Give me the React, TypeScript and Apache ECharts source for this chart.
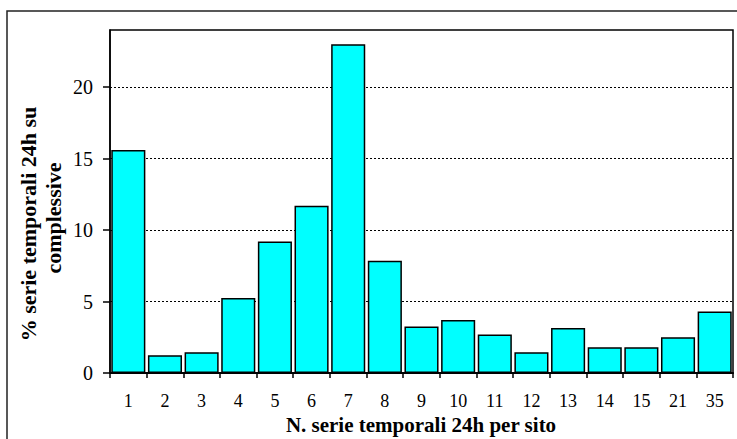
import React, { useEffect, useRef } from "react";
import * as echarts from "echarts";

// Number of 24h time series per site
const categories = ["1", "2", "3", "4", "5", "6", "7", "8", "9", "10", "11", "12", "13", "14", "15", "21", "35"];
// Share (%) of all 24h time series
const shares = [15.6, 1.25, 1.45, 5.25, 9.2, 11.7, 23.0, 7.85, 3.25, 3.7, 2.7, 1.45, 3.15, 1.8, 1.8, 2.5, 4.3];
const yTicks = [0, 5, 10, 15, 20];

const FONT = '"Liberation Serif", "Times New Roman", serif';

export default function App() {
  const ref = useRef<HTMLDivElement>(null);

  useEffect(() => {
    document.body.style.margin = "0";
    if (!ref.current) return;
    const chart = echarts.init(ref.current, undefined, { renderer: "svg" });
    chart.setOption({
      animation: false,
      backgroundColor: "#ffffff",
      grid: {
        left: 110,
        top: 30,
        right: 4,
        bottom: 66,
        show: true,
        borderColor: "#000",
        borderWidth: 1.5,
        backgroundColor: "transparent",
      },
      xAxis: {
        type: "category",
        data: categories,
        axisLine: { lineStyle: { color: "#000", width: 2 } },
        axisTick: { show: true, length: 5, lineStyle: { color: "#000", width: 1.5 } },
        axisLabel: { color: "#000", fontFamily: FONT, fontSize: 18, margin: 19 },
      },
      yAxis: {
        type: "value",
        min: 0,
        max: 24,
        interval: 5,
        axisLine: { show: true, lineStyle: { color: "#000", width: 1.5 } },
        axisTick: { show: true, length: 7, customValues: yTicks, lineStyle: { color: "#000", width: 1.5 } },
        axisLabel: {
          color: "#000",
          fontFamily: FONT,
          fontSize: 20,
          margin: 17,
          customValues: yTicks,
        },
        splitLine: { show: true, lineStyle: { color: "#000", type: [2, 2], width: 1 } },
      },
      series: [
        {
          type: "bar",
          data: shares,
          barCategoryGap: "7%",
          itemStyle: { color: "#00ffff", borderColor: "#000", borderWidth: 1.5 },
        },
      ],
      graphic: [
        {
          type: "rect",
          shape: { x: 7, y: 11, width: 760, height: 460 },
          style: { fill: "none", stroke: "#222", lineWidth: 1.5 },
          silent: true,
        },
        {
          type: "text",
          x: 421,
          y: 425,
          style: {
            text: "N. serie temporali 24h per sito",
            font: `bold 21px ${FONT}`,
            fill: "#000",
            align: "center",
            verticalAlign: "middle",
          },
        },
        {
          type: "text",
          x: 28,
          y: 224,
          rotation: Math.PI / 2,
          style: {
            text: "% serie temporali 24h su",
            font: `bold 22px ${FONT}`,
            fill: "#000",
            align: "center",
            verticalAlign: "middle",
          },
        },
        {
          type: "text",
          x: 53,
          y: 218,
          rotation: Math.PI / 2,
          style: {
            text: "complessive",
            font: `bold 22px ${FONT}`,
            fill: "#000",
            align: "center",
            verticalAlign: "middle",
          },
        },
      ],
    });
    return () => chart.dispose();
  }, []);

  return <div ref={ref} style={{ width: 737, height: 439 }} />;
}
